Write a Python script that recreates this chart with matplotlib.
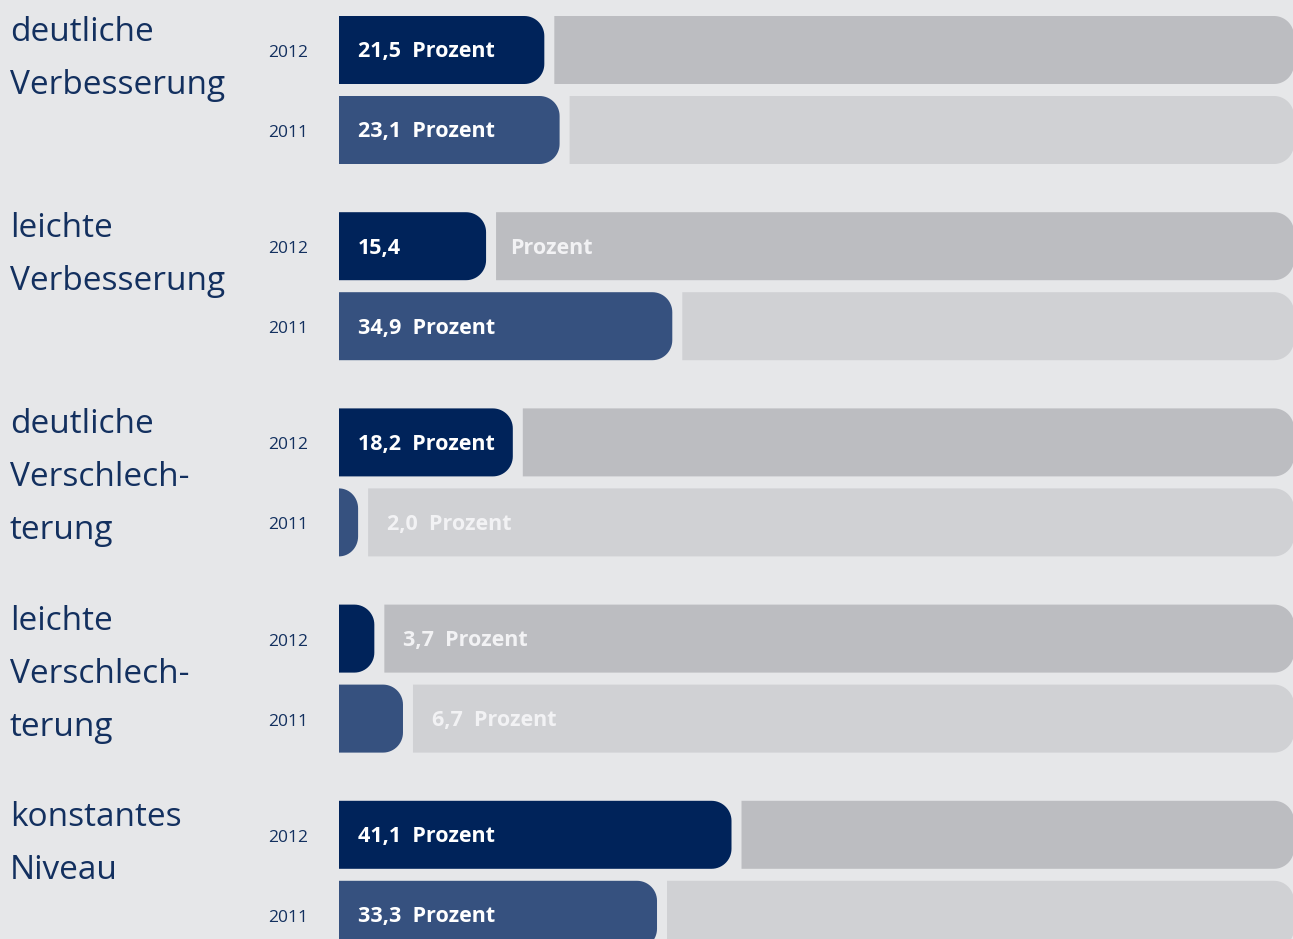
import numpy as np
import matplotlib
matplotlib.use("Agg")
import matplotlib.pyplot as plt
from matplotlib.patches import Polygon

# ---- data ----
categories = [
    ["deutliche", "Verbesserung"],
    ["leichte", "Verbesserung"],
    ["deutliche", "Verschlech-", "terung"],
    ["leichte", "Verschlech-", "terung"],
    ["konstantes", "Niveau"],
]
years = ["2012", "2011"]
values_2012 = [21.5, 15.4, 18.2, 3.7, 41.1]
values_2011 = [23.1, 34.9, 2.0, 6.7, 33.3]
unit = "Prozent"

# ---- style ----
BG = "#e6e7e9"
BAR_COLORS = {"2012": "#00235a", "2011": "#36517f"}
REST_COLORS = {"2012": "#bcbdc1", "2011": "#d0d1d4"}
TEXT_NAVY = "#13305f"
FONT = "Open Sans"

W, H = 1293, 939
DPI = 100
PX_PER_PCT = 9.55
X0_PX = 339

fig = plt.figure(figsize=(W / DPI, H / DPI), dpi=DPI, facecolor=BG)
ax = fig.add_axes([0, 0, 1, 1])
ax.set_facecolor(BG)
ax.set_xlim(-X0_PX / PX_PER_PCT, (W - X0_PX) / PX_PER_PCT)
ax.set_ylim(H, 0)
ax.axis("off")

R_PX = 20
rx = R_PX / PX_PER_PCT
ry = R_PX


def round_right_bar(x0, x1, yc, h, color):
    y0, y1 = yc - h / 2, yc + h / 2
    rxx = min(rx, (x1 - x0))
    t1 = np.linspace(-np.pi / 2, 0, 16)
    t2 = np.linspace(0, np.pi / 2, 16)
    pts = [(x0, y0)]
    pts += [(x1 - rxx + rxx * np.cos(t), y0 + ry + ry * np.sin(t)) for t in t1]
    pts += [(x1 - rxx + rxx * np.cos(t), y1 - ry + ry * np.sin(t)) for t in t2]
    pts += [(x0, y1)]
    ax.add_patch(Polygon(pts, closed=True, facecolor=color, edgecolor="none"))


GROUP_TOP0 = 16
GROUP_STEP = 196.2
BAR_H = 68
PAIR_STEP = 80
GAP = 10 / PX_PER_PCT
PAD = 19 / PX_PER_PCT
LBL_FS = 15.5
TXT_DY = 2

for gi, lines in enumerate(categories):
    top = GROUP_TOP0 + gi * GROUP_STEP
    for li, line in enumerate(lines):
        ax.text(-X0_PX / PX_PER_PCT + 10 / PX_PER_PCT, top + 25 + li * 53, line,
                fontsize=24, family=FONT, color=TEXT_NAVY, va="baseline", ha="left")
    for yi, (yr, vals) in enumerate(zip(years, [values_2012, values_2011])):
        v = vals[gi]
        yc = top + BAR_H / 2 + yi * PAIR_STEP
        ty = yc + TXT_DY
        ax.text(-71 / PX_PER_PCT, ty + 1, yr, fontsize=12.5, family=FONT,
                color=TEXT_NAVY, va="center", ha="left")
        round_right_bar(0, v, yc, BAR_H, BAR_COLORS[yr])
        rest_start = v + GAP
        round_right_bar(rest_start, 100, yc, BAR_H, REST_COLORS[yr])
        num = f"{v:.1f}".replace(".", ",")
        if v >= 17:
            ax.text(PAD, ty, f"{num}  {unit}", fontsize=LBL_FS, family=FONT,
                    weight="bold", color="white", va="center", ha="left")
        elif v >= 10:
            ax.text(PAD, ty, num, fontsize=LBL_FS, family=FONT,
                    weight="bold", color="white", va="center", ha="left")
            ax.text(rest_start + 14 / PX_PER_PCT, ty, unit, fontsize=LBL_FS,
                    family=FONT, weight="bold", color="#f2f2f4", va="center", ha="left")
        else:
            ax.text(rest_start + PAD, ty, f"{num}  {unit}", fontsize=LBL_FS,
                    family=FONT, weight="bold", color="#f2f2f4", va="center", ha="left")

fig.savefig("out.png", dpi=DPI, facecolor=BG)
